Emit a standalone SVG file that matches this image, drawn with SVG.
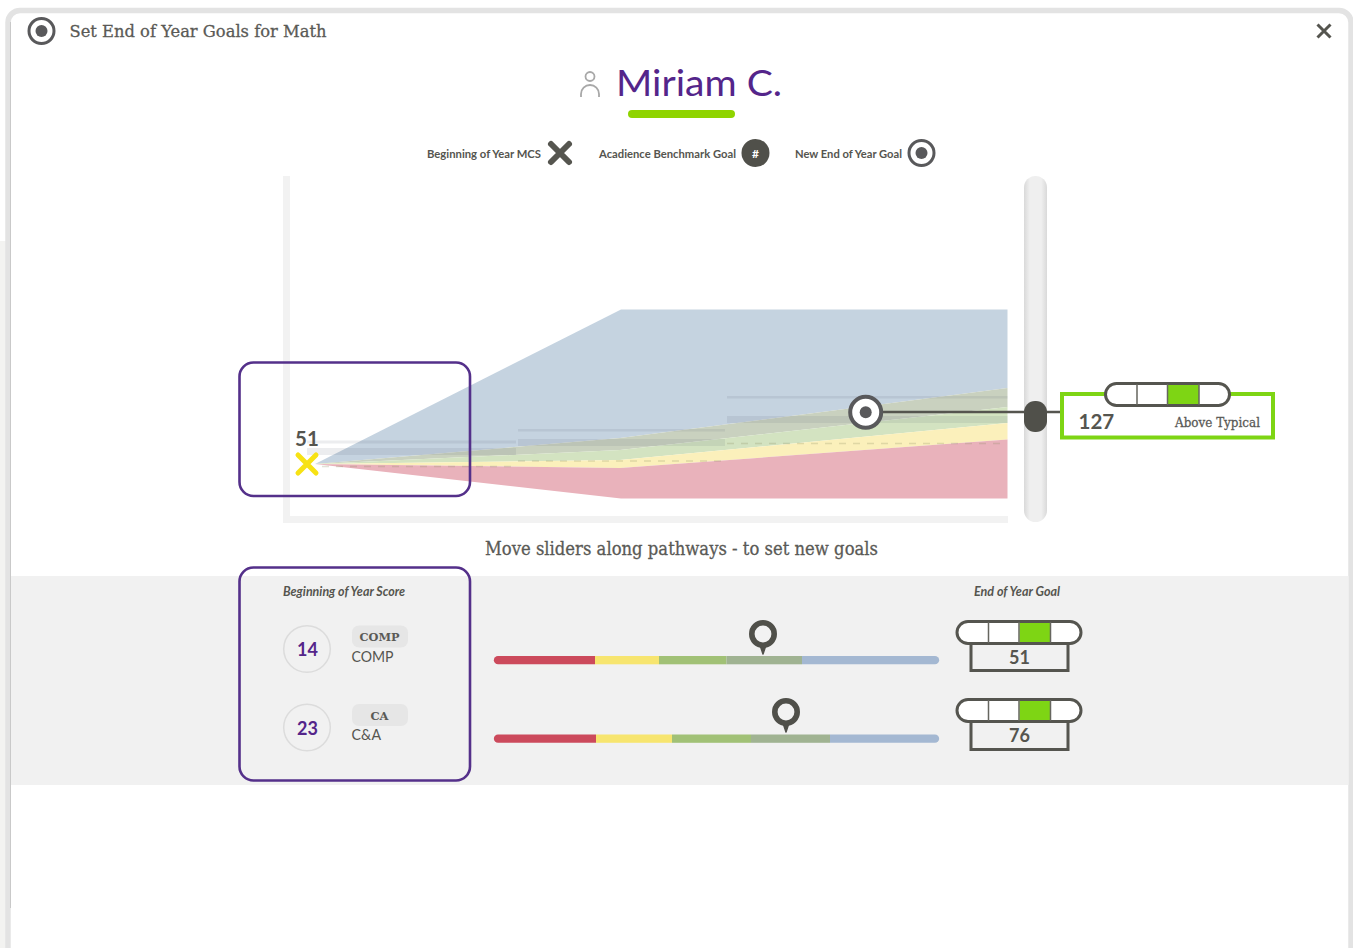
<svg xmlns="http://www.w3.org/2000/svg" width="1353" height="948" viewBox="0 0 1353 948">
<style>
.lato{font-family:Lato,"Liberation Sans",sans-serif;fill:#55554f}
.slab{font-family:"DejaVu Serif","Liberation Serif",serif;fill:#5a5a56;stroke:#5a5a56;stroke-width:.3}
.b{font-weight:700}
.m{text-anchor:middle}
.dark{fill:none;stroke:#55554f;stroke-width:3}
.purple{fill:none;stroke:#54308a;stroke-width:2.6}
.ref{fill:#505a6e;opacity:.11}
.dash{fill:none;stroke:#8a8a60;stroke-width:1.5;stroke-dasharray:7 7;opacity:.25}
.score{fill:none;stroke:#dcdcdc;stroke-width:1.5}
.chip{fill:#e6e6e6}
</style>
<defs>
<linearGradient id="track" x1="0" x2="1" y1="0" y2="0">
<stop offset="0" stop-color="#d9d9d9"/><stop offset=".25" stop-color="#efefef"/><stop offset=".75" stop-color="#efefef"/><stop offset="1" stop-color="#d9d9d9"/>
</linearGradient>
<g id="pill">
<rect x="1.500" y="1.500" width="124" height="22" rx="11" fill="#fff" stroke="#55554f" stroke-width="3"/>
<rect x="64" y="3" width="31" height="19" fill="#7ed514"/>
<path d="M33 2V23M63.500 2V23M95 2V23" stroke="#66665f" stroke-width="1.500" fill="none"/>
</g>
<g id="target">
<circle r="12.500" fill="#fff" stroke="#59595b" stroke-width="3"/>
<circle r="6" fill="#59595b"/>
</g>
<g id="pin">
<path d="M-3 11L0 20L3 11Z" fill="#50504a" stroke="#50504a" stroke-width="1.500" stroke-linejoin="round"/>
<circle r="11.200" fill="#f2f2f2" stroke="#50504a" stroke-width="5.600"/>
</g>
</defs>

<rect width="1353" height="948" fill="#fff"/>
<rect x="0" y="241" width="6" height="707" fill="#f3f3f1"/>
<rect id="dialog" x="8" y="10.500" width="1343" height="970" rx="12" fill="#fff" stroke="#e3e3e3" stroke-width="5.500"/>
<path d="M10.500 22V908" stroke="#c9c9c9" stroke-width="1" fill="none"/>
<rect id="footer-band" x="11" y="576" width="1337.500" height="209" fill="#f1f1f1"/>

<g id="header">
<use href="#target" x="41.500" y="31"/>
<text class="slab" x="69.500" y="36.500" font-size="17" textLength="257" lengthAdjust="spacingAndGlyphs">Set End of Year Goals for Math</text>
<path d="M1317.500 24.500L1330.500 37.500M1330.500 24.500L1317.500 37.500" stroke="#55554f" stroke-width="3" fill="none"/>
</g>

<g id="student">
<circle cx="590" cy="76.500" r="4.500" fill="none" stroke="#a8a8a8" stroke-width="1.800"/>
<path d="M581 97V94A9 9 0 0 1 599 94V97" fill="none" stroke="#a8a8a8" stroke-width="1.800"/>
<text x="616" y="96" font-family="Lato,'Liberation Sans',sans-serif" font-size="37" fill="#54258a" textLength="166" lengthAdjust="spacingAndGlyphs">Miriam C.</text>
<rect x="628" y="110" width="107" height="8" rx="4" fill="#8fd400"/>
</g>

<g id="legend">
<text class="lato b" x="427" y="158" font-size="11.500" textLength="114" lengthAdjust="spacingAndGlyphs">Beginning of Year MCS</text>
<path d="M551 144L569 162M569 144L551 162" stroke="#55554f" stroke-width="6" fill="none" stroke-linecap="round"/>
<text class="lato b" x="599" y="158" font-size="11.500" textLength="137" lengthAdjust="spacingAndGlyphs">Acadience Benchmark Goal</text>
<circle cx="755.500" cy="153" r="14" fill="#50504a"/>
<text class="lato b m" x="755.500" y="157.500" font-size="12" style="fill:#fff">#</text>
<text class="lato b" x="795" y="158" font-size="11.500" textLength="107" lengthAdjust="spacingAndGlyphs">New End of Year Goal</text>
<use href="#target" x="921.500" y="153"/>
</g>

<g id="chart">
<path d="M283 176H290V516H1008V523H283Z" fill="#f2f2f2"/>
<polygon points="315,464 621,309.500 1007.500,309.500 1007.500,388 620,438" fill="#c5d3e0"/>
<polygon points="315,464 620,438 1007.500,388 1007.500,407 620,450" fill="#c9d1bf"/>
<polygon points="315,464 620,450 1007.500,407 1007.500,423 620,460" fill="#d3e3c1"/>
<polygon points="315,464 620,460 1007.500,423 1007.500,439.500 620,468" fill="#fbf0bb"/>
<polygon points="315,464 620,468 1007.500,439.500 1007.500,498.500 621,498.500" fill="#e9b2bb"/>
<rect class="ref" x="307" y="440.500" width="209" height="3"/>
<rect class="ref" x="307" y="448" width="209" height="7"/>
<rect class="ref" x="518" y="429" width="207" height="2.500"/>
<rect class="ref" x="518" y="439" width="207" height="7"/>
<rect class="ref" x="727" y="396" width="280.500" height="2.500"/>
<rect class="ref" x="727" y="416" width="280.500" height="7"/>
<path class="dash" d="M322 466.500H516M518 461H725M727 443.500H1007"/>
<text class="lato b m" x="307" y="446" font-size="20.500">51</text>
<path d="M298 455L316 473M316 455L298 473" stroke="#f7e214" stroke-width="5" stroke-linecap="round" fill="none"/>
<rect id="start-highlight" class="purple" x="239.500" y="362.500" width="230.500" height="133.500" rx="14"/>
<text class="slab m" x="681.500" y="554.500" font-size="18" textLength="393" lengthAdjust="spacingAndGlyphs">Move sliders along pathways - to set new goals</text>
</g>

<g id="connectors">
<path d="M880 412H1062" stroke="#55554f" stroke-width="2.500" fill="none"/>
</g>

<g id="goal-marker">
<circle cx="865.700" cy="412.300" r="15.500" fill="#fff" stroke="#59595b" stroke-width="4"/>
<circle cx="865.700" cy="412.300" r="6" fill="#59595b"/>
</g>

<g id="goal-slider">
<rect x="1024" y="176" width="23" height="346" rx="11.500" fill="url(#track)"/>
<rect x="1024" y="401" width="23" height="31" rx="11" fill="#50504a"/>
</g>

<g id="goal-readout">
<rect x="1062" y="394" width="211" height="43.500" fill="#fff" stroke="#7ed514" stroke-width="4"/>
<use href="#pill" x="1104" y="382"/>
<text class="lato b" x="1078.500" y="429" font-size="20.500">127</text>
<text class="slab" x="1175" y="426.500" font-size="12.500" textLength="85" lengthAdjust="spacingAndGlyphs">Above Typical</text>
</g>

<g id="scores">
<rect id="score-highlight" class="purple" x="239.500" y="567.500" width="230.500" height="213" rx="14"/>
<text class="lato b" x="283" y="596" font-size="12.500" font-style="italic" textLength="122" lengthAdjust="spacingAndGlyphs">Beginning of Year Score</text>
</g>

<g id="comp-score">
<circle class="score" cx="307" cy="649" r="23.300"/>
<text class="lato b m" x="307.500" y="656" font-size="18" style="fill:#54258a">14</text>
<rect class="chip" x="352" y="625.500" width="56" height="22" rx="7"/>
<text class="slab b m" x="379.500" y="641" font-size="11.500" textLength="40" lengthAdjust="spacingAndGlyphs" style="stroke-width:0">COMP</text>
<text class="lato" x="351.500" y="662" font-size="15" textLength="42" lengthAdjust="spacingAndGlyphs">COMP</text>
</g>

<g id="ca-score">
<circle class="score" cx="307" cy="727.500" r="23.300"/>
<text class="lato b m" x="307.500" y="734.500" font-size="18" style="fill:#54258a">23</text>
<rect class="chip" x="352" y="704" width="56" height="22" rx="7"/>
<text class="slab b m" x="379.500" y="719.500" font-size="11.500" style="stroke-width:0">CA</text>
<text class="lato" x="351.500" y="740" font-size="15" textLength="29.500" lengthAdjust="spacingAndGlyphs">C&amp;A</text>
</g>

<g id="comp-slider">
<path d="M498 656H595V664.300H498A4.150 4.150 0 0 1 498 656Z" fill="#cc4a5c"/>
<rect x="595" y="656" width="64" height="8.300" fill="#f7e56f"/>
<rect x="659" y="656" width="67.500" height="8.300" fill="#a1c176"/>
<rect x="726.500" y="656" width="75.500" height="8.300" fill="#a0b392"/>
<path d="M802 656H935A4.150 4.150 0 0 1 935 664.300H802Z" fill="#a4b8d2"/>
<use href="#pin" x="763" y="634"/>
</g>

<g id="ca-slider">
<path d="M498 734.500H596V742.800H498A4.150 4.150 0 0 1 498 734.500Z" fill="#cc4a5c"/>
<rect x="596" y="734.500" width="76" height="8.300" fill="#f7e56f"/>
<rect x="672" y="734.500" width="79" height="8.300" fill="#a1c176"/>
<rect x="751" y="734.500" width="79" height="8.300" fill="#a0b392"/>
<path d="M830 734.500H935A4.150 4.150 0 0 1 935 742.800H830Z" fill="#a4b8d2"/>
<use href="#pin" x="786" y="712"/>
</g>

<g id="goals">
<text class="lato b" x="974" y="596" font-size="12.500" font-style="italic" textLength="86" lengthAdjust="spacingAndGlyphs">End of Year Goal</text>
</g>

<g id="comp-goal">
<path class="dark" d="M971 643V670.500H1068V643"/>
<use href="#pill" x="955.500" y="620"/>
<text class="lato b m" x="1019.500" y="663.500" font-size="18">51</text>
</g>

<g id="ca-goal">
<path class="dark" d="M971 721V749.500H1068V721"/>
<use href="#pill" x="955.500" y="698"/>
<text class="lato b m" x="1019.500" y="741.500" font-size="18">76</text>
</g>
</svg>
